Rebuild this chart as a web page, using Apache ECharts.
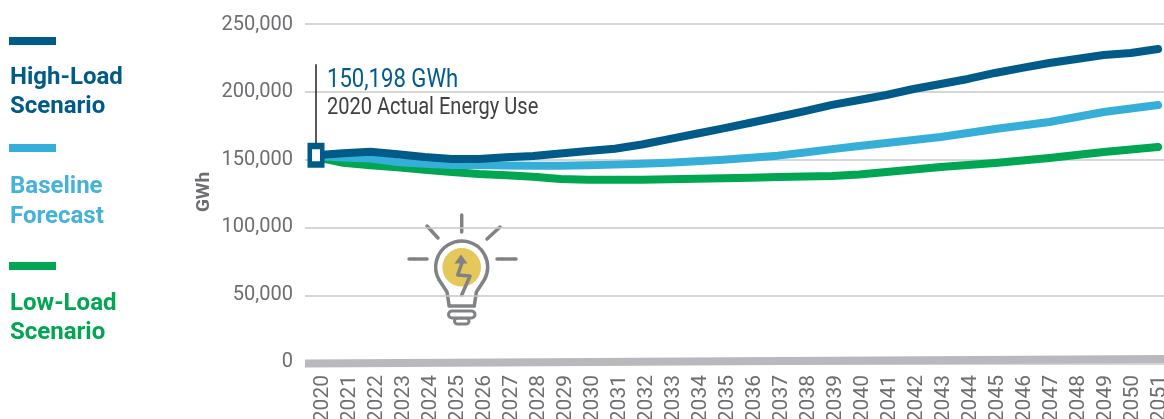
<!DOCTYPE html>
<html>
<head>
<meta charset="utf-8">
<title>Energy use forecast</title>
<style>
  html, body { margin: 0; padding: 0; background: #fff; overflow: hidden; }
  #main { width: 1164px; height: 419px; }
</style>
<script src="https://cdn.jsdelivr.net/npm/echarts@6/dist/echarts.min.js"></script>
</head>
<body>
<div id="main"></div>
<script>
  var years = ['2020','2021','2022','2023','2024','2025','2026','2027','2028','2029','2030','2031',
    '2032','2033','2034','2035','2036','2037','2038','2039','2040','2041','2042','2043','2044',
    '2045','2046','2047','2048','2049','2050','2051']
  var highLoad = [153500,154900,156100,154200,152200,150700,150700,152000,152900,154800,156600,158300,
    161400,165400,169300,173300,177400,181600,186000,190500,194100,197800,202200,205900,209600,
    214000,217700,221300,224300,227200,228700,231600]
  var baseline = [152900,151800,151100,148500,147300,146300,146300,146000,145800,145800,146100,146600,
    147300,148000,149100,150200,151700,153200,155500,158000,160300,162500,164700,166900,169900,
    172800,175400,177900,181600,185300,187900,190400]
  var lowLoad = [152200,148000,146100,144600,142900,141200,139700,138800,137700,136100,135500,135500,
    135500,135800,136300,136600,137000,137500,137900,138200,139300,141200,143000,144900,146300,
    147800,149600,151500,153700,155900,157700,159600]
  // the grey floor band runs the full plot width and tilts up a little
  var floorEnds = ['start', 'end']
  var floorBand = [400, 3700]
  var yTicks = [0, 250000, 50000]

  var navy = '#005b88', sky = '#36afd8', green = '#00a651'
  var grey = '#6d6e71', bulbGrey = '#808285'

  function seriesLine(name, data, color) {
    return {
      name: name, type: 'line', xAxisIndex: 1, yAxisIndex: 1, data: data,
      symbol: 'none', smooth: false, silent: true,
      lineStyle: { color: color, width: 8, cap: 'round', join: 'round' }
    }
  }
  function legendText(txt, y, color, lineHeight) {
    return { type: 'text', x: 10, y: y, style: { text: txt, fill: color, font: 'bold 24px Roboto', lineHeight: lineHeight } }
  }
  function legendBar(y, color) {
    return { type: 'rect', shape: { x: 9, y: y, width: 47, height: 8 }, style: { fill: color } }
  }
  function ray(x1, y1, x2, y2) {
    return { type: 'line', shape: { x1: x1, y1: y1, x2: x2, y2: y2 }, style: { stroke: bulbGrey, lineWidth: 3.5, lineCap: 'round' } }
  }
  function bulbStroke(pts, w) {
    return { type: 'polyline', shape: { points: pts }, style: { stroke: bulbGrey, fill: null, lineWidth: w || 3.5, lineCap: 'round', lineJoin: 'round' } }
  }
  function bulbCap(x, y, w, h) {
    return { type: 'rect', shape: { x: x, y: y, width: w, height: h, r: h / 2 }, style: { stroke: bulbGrey, fill: '#fff', lineWidth: 3 } }
  }

  var highData = highLoad.slice()
  highData[0] = { value: highLoad[0], symbol: 'rect', symbolSize: [12.5, 18.5],
    itemStyle: { color: '#fff', borderColor: navy, borderWidth: 5.5, opacity: 1 } }

  var high = seriesLine('High-Load Scenario', highData, navy)
  high.showSymbol = true
  high.showAllSymbol = true
  high.markLine = {
    silent: true, symbol: 'none', animation: false, label: { show: false },
    lineStyle: { color: '#222', width: 1.5, type: 'solid' },
    data: [[{ coord: ['2020', 162300] }, { coord: ['2020', 220400] }]]
  }

  var option = {
    animation: false,
    backgroundColor: '#fff',
    grid: [
      { left: 305, right: 0, top: 24, height: 340, outerBoundsMode: 'none' },
      { left: 316, width: 842, top: 24, height: 340, outerBoundsMode: 'none' },
      // tick labels sit slightly off the gridlines and points, so they get their own grid
      { left: 323, width: 837, top: 25, height: 337, outerBoundsMode: 'none' }
    ],
    xAxis: [
      { type: 'category', gridIndex: 0, data: floorEnds, boundaryGap: false, show: false },
      { type: 'category', gridIndex: 1, data: years, boundaryGap: false, show: false },
      {
        type: 'category', gridIndex: 2, data: years, boundaryGap: false,
        axisLine: { show: false }, axisTick: { show: false },
        axisLabel: { interval: 0, rotate: 90, margin: 13, color: grey, fontFamily: 'Roboto', fontSize: 21 }
      }
    ],
    yAxis: [
      {
        type: 'value', gridIndex: 0, min: yTicks[0], max: yTicks[1], interval: yTicks[2],
        axisLine: { show: false }, axisTick: { show: false }, axisLabel: { show: false },
        splitLine: { lineStyle: { color: '#c8c8ca', width: 1.5 } }
      },
      { type: 'value', gridIndex: 1, min: yTicks[0], max: yTicks[1], interval: yTicks[2], show: false },
      {
        type: 'value', gridIndex: 2, min: yTicks[0], max: yTicks[1], interval: yTicks[2],
        axisLine: { show: false }, axisTick: { show: false }, splitLine: { show: false },
        axisLabel: {
          margin: 30, color: grey, fontFamily: 'Roboto', fontSize: 20,
          formatter: function (v) { return v.toLocaleString('en-US') }
        }
      }
    ],
    series: [
      {
        name: 'Floor', type: 'line', xAxisIndex: 0, yAxisIndex: 0, data: floorBand, symbol: 'none',
        silent: true, lineStyle: { color: '#b9b9bd', width: 8 }
      },
      seriesLine('Low-Load Scenario', lowLoad, green),
      seriesLine('Baseline Forecast', baseline, sky),
      high
    ],
    graphic: [
      legendBar(37, navy), legendText('High-Load\nScenario', 63, navy, 29),
      legendBar(144, sky), legendText('Baseline\nForecast', 172, '#45b2d9', 30),
      legendBar(262, green), legendText('Low-Load\nScenario', 289, green, 29),
      { type: 'text', x: 204, y: 192, rotation: Math.PI / 2,
        style: { text: 'GWh', fill: grey, font: 'bold 19px Roboto', align: 'center', verticalAlign: 'middle' } },
      { type: 'text', x: 327, y: 67, scaleX: 0.85, style: { text: '150,198 GWh', fill: navy, font: '26px Roboto' } },
      { type: 'text', x: 327, y: 96, scaleX: 0.835, style: { text: '2020 Actual Energy Use', fill: '#414042', font: '24px Roboto' } },
      // light bulb
      { type: 'circle', shape: { cx: 461.7, cy: 267.3, r: 19.3 }, style: { fill: '#e5c85a' } },
      ray(461.7, 215, 461.7, 232), ray(427, 226, 438, 238), ray(500, 227, 487, 239),
      ray(409, 259, 427, 259), ray(497, 259, 516, 259),
      { type: 'arc', shape: { cx: 461.7, cy: 267, r: 26, startAngle: Math.PI * 5 / 6, endAngle: Math.PI / 6, clockwise: true },
        style: { stroke: bulbGrey, fill: null, lineWidth: 3.5 } },
      bulbStroke([[439.2, 280], [447, 292], [449, 305]]),
      bulbStroke([[484.2, 280], [476.4, 292], [474.4, 305]]),
      bulbCap(454.5, 318, 14.5, 6),
      bulbStroke([[449, 306], [474.4, 306]]),
      bulbCap(448.5, 311, 26.5, 7),
      bulbStroke([[461.7, 295], [470, 276], [457.7, 275], [462.3, 262]]),
      { type: 'polygon', shape: { points: [[461, 254.5], [454.5, 263.5], [467.5, 263.5]] }, style: { fill: bulbGrey } }
    ]
  }

  var myCharts = echarts.init(document.getElementById('main'), null, { renderer: 'canvas' })
  myCharts.setOption(option)
</script>
</body>
</html>
